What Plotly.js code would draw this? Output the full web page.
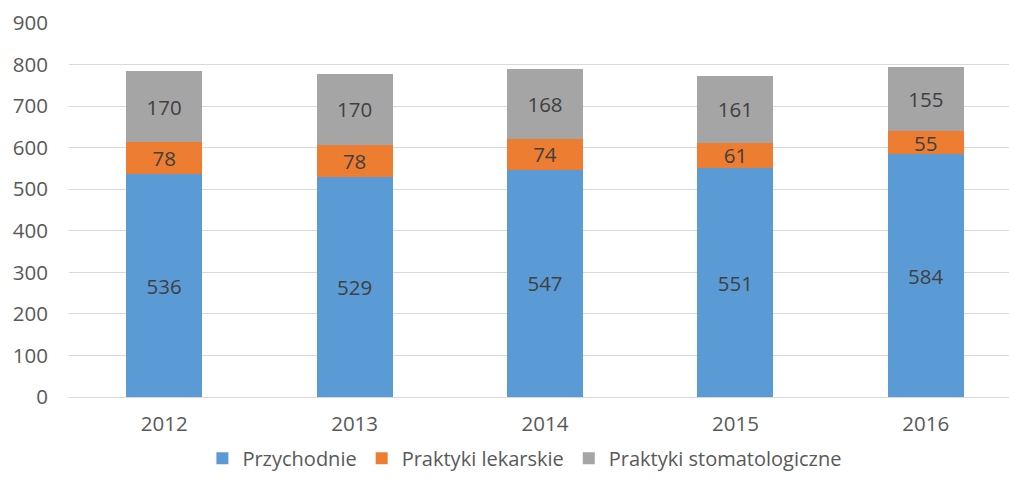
<!DOCTYPE html>
<html><head><meta charset="utf-8">
<script src="https://cdn.plot.ly/plotly-3.0.1.min.js"></script>
<style>html,body{margin:0;padding:0;background:#fff}#chart{width:1009px;height:479px}</style>
</head><body><div id="chart"></div>
<script>
const years = ['2012','2013','2014','2015','2016'];
const przychodnie = [536,529,547,551,584];
const lekarskie = [78,78,74,61,55];
const stomatologiczne = [170,170,168,161,155];
const seriesNames = ['Przychodnie','Praktyki lekarskie','Praktyki stomatologiczne'];
const colors = ['#5B9BD5','#ED7D31','#A5A5A5'];
const font = "'Open Sans', 'DejaVu Sans', sans-serif";
const data = [przychodnie, lekarskie, stomatologiczne].map((vals,i)=>({
  type:'bar', x:years, y:vals, name:seriesNames[i],
  marker:{color:colors[i]}, width:0.4,
  text:vals.map(String), textposition:'inside', insidetextanchor:'middle',
  textangle:0, constraintext:'none',
  textfont:{color:'#404040', size:20.5, family:font}, hoverinfo:'none'
}));
const layout = {
  barmode:'stack', width:1009, height:479,
  margin:{l:69, r:0, t:23, b:82, autoexpand:false},
  paper_bgcolor:'#fff', plot_bgcolor:'#fff',
  font:{family:font, color:'#595959', size:20},
  xaxis:{type:'category', range:[-0.5,4.437], showgrid:false, zeroline:false, showline:false, ticks:'', tickfont:{size:20.5, color:'#595959'}, ticklabelstandoff:12},
  yaxis:{range:[0,900], dtick:100, showgrid:true, gridcolor:'#D9D9D9', gridwidth:1, zeroline:true, zerolinecolor:'#D9D9D9', zerolinewidth:1, showline:false, ticks:'', tickfont:{size:20.5, color:'#595959'}, ticklabelstandoff:20},
  legend:{orientation:'h', x:0.485, xanchor:'center', y:-0.216, yanchor:'bottom', font:{size:20, color:'#595959'}, itemwidth:30, traceorder:'normal'},
  showlegend:true
};
Plotly.newPlot('chart', data, layout, {displayModeBar:false, staticPlot:true});
</script></body></html>
